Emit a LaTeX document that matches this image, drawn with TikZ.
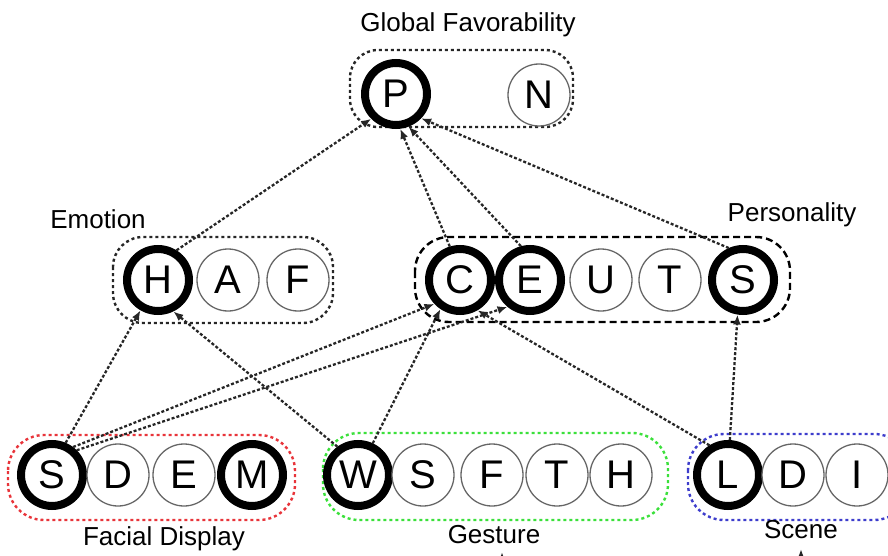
\documentclass[tikz,border=0pt]{standalone}
\usepackage{fontspec}
\setmainfont{Liberation Sans}
\usetikzlibrary{arrows.meta}

\definecolor{facered}{HTML}{E8343A}
\definecolor{gestgreen}{HTML}{3BE03B}
\definecolor{sceneblue}{HTML}{3D3DCC}

\begin{document}
\begin{tikzpicture}[x=1pt,y=-1pt,
  unit/.style={circle, draw=black!60, line width=1.3pt, fill=white,
    minimum size=62pt, inner sep=0pt, font=\fontsize{40}{40}\selectfont},
  active/.style={unit, draw=black, line width=8pt},
  link/.style={draw=black!85, line width=2.3pt, dash pattern=on 3pt off 2pt,
    -{Latex[length=10pt,width=8pt]}},
  group/.style={line width=2.4pt, rounded corners=30pt, dash pattern=on 3pt off 3pt},
  title/.style={font=\fontsize{26}{26}\selectfont, anchor=base}
]
\useasboundingbox (0,0) rectangle (888,556);
\clip (0,0) rectangle (888,556);

% group frames
\draw[group, draw=black!85, rounded corners=28pt] (350,50) rectangle (573,127);
\draw[group, draw=black!85] (113,237) rectangle (333,323);
\draw[group, draw=black, dash pattern=on 7pt off 4pt, rounded corners=34pt] (415,237) rectangle (790,322);
\draw[group, draw=facered, rounded corners=36pt] (8,435) rectangle (295,520);
\draw[group, draw=gestgreen, rounded corners=36pt] (323,433) rectangle (668,520);
\draw[group, draw=sceneblue, rounded corners=36pt] (688,434) rectangle (910,520);

% group titles
\node[title] (tGlobal) at (468,32) {Global Favorability};
\node[title] (tEmotion) at (98,228) {Emotion};
\node[title] (tPers) at (792,222) {Personality};
\node[title] (tFace) at (164,545) {Facial Display};
\node[title] (tGest) at (494,543) {Gesture};
\node[title] (tScene) at (801,538) {Scene};

% global favorability
\node[active] (P) at (396,94) {P};
\node[unit] (N) at (539,95) {N};

% emotion
\node[active] (eH) at (158,280) {H};
\node[unit] (eA) at (228,280) {A};
\node[unit] (eF) at (298,280) {F};

% personality
\node[active] (pC) at (460,280) {C};
\node[active] (pE) at (530,280) {E};
\node[unit] (pU) at (601,280) {U};
\node[unit] (pT) at (670,280) {T};
\node[active] (pS) at (743,280) {S};

% facial display
\node[active] (fS) at (52,475) {S};
\node[unit] (fD) at (118,475) {D};
\node[unit] (fE) at (184,475) {E};
\node[active] (fM) at (252,475) {M};

% gesture
\node[active] (gW) at (358,475) {W};
\node[unit] (gS) at (423,475) {S};
\node[unit] (gF) at (492,475) {F};
\node[unit] (gT) at (557,475) {T};
\node[unit] (gH) at (621,475) {H};

% scene
\node[active] (sL) at (728,475) {L};
\node[unit] (sD) at (793,475) {D};
\node[unit] (sI) at (857,475) {I};

% influences
\draw[link] (eH.58) -- (P.225);
\draw[link] (pC.107) -- (P.277);
\draw[link] (pE.105) -- (P.291);
\draw[link] (pS.114) -- (P.316);
\draw[link] (fS.67) -- (eH.240);
\draw[link] (gW.126) -- (eH.296);
\draw[link] (fS.53) -- (pC.223);
\draw[link] (fS.45) -- (pE.230);
\draw[link] (gW.65) -- (pC.236);
\draw[link] (sL.122) -- (pC.300);
\draw[link] (sL.87) -- (pS.261);

% incoming arrows from below the frame
\coordinate (sceneFrom) at (801,600);
\coordinate (sceneTo) at (801,549);
\coordinate (gestFrom) at (502,600);
\coordinate (gestTo) at (502,552);
\draw[link, solid] (sceneFrom) -- (sceneTo);
\draw[link, solid] (gestFrom) -- (gestTo);
\end{tikzpicture}
\end{document}
